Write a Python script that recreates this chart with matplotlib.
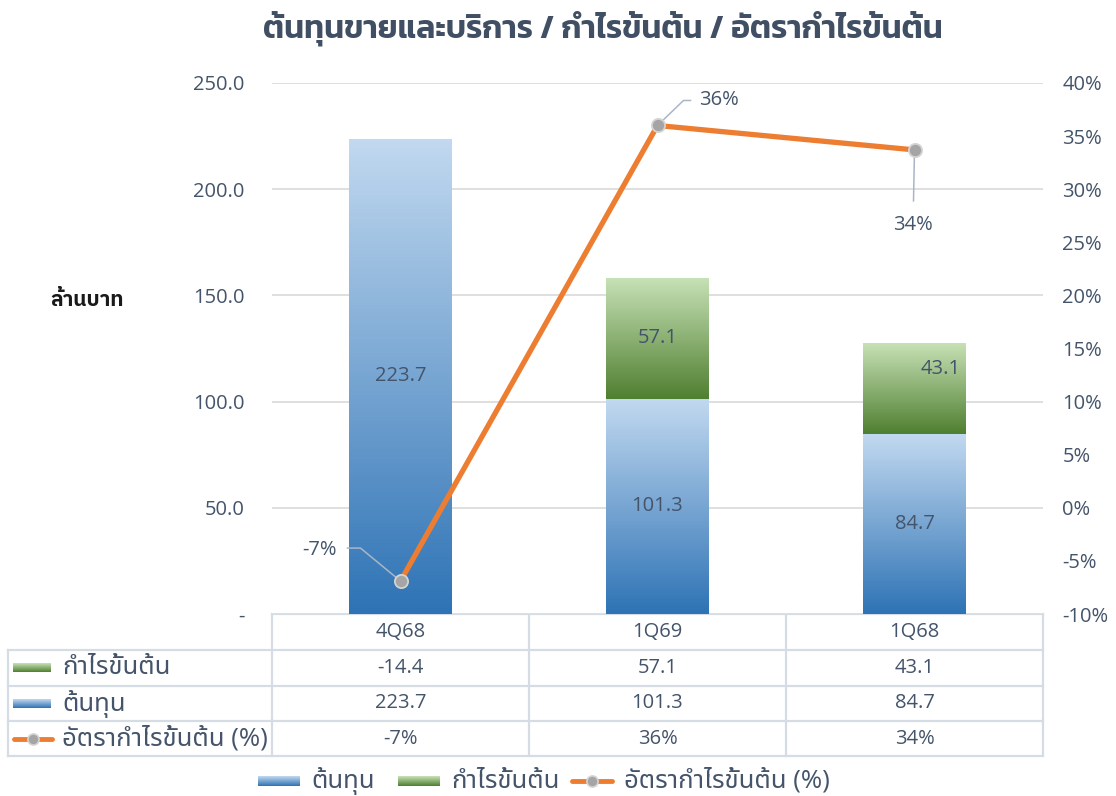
import numpy as np
import matplotlib
matplotlib.use("Agg")
import matplotlib.pyplot as plt
import matplotlib.transforms as mtrans
from matplotlib import font_manager
from matplotlib.colors import LinearSegmentedColormap

# data
quarters = ["4Q68", "1Q69", "1Q68"]
cost = [223.7, 101.3, 84.7]
gross_profit = [-14.4, 57.1, 43.1]
margin_pct = [-6.9, 36.0, 33.7]

title = "ต้นทุนขายและบริการ / กำไรขั้นต้น / อัตรากำไรขั้นต้น"
name_cost = "ต้นทุน"
name_profit = "กำไรขั้นต้น"
name_margin = "อัตรากำไรขั้นต้น (%)"
unit_label = "ล้านบาท"

# fonts: latin digits from Open Sans, thai glyphs from a thai family
ttf = font_manager.fontManager.ttflist
installed = {f.name for f in ttf}


def wnum(w):
    if isinstance(w, int):
        return w
    return font_manager.weight_dict.get(str(w), 400)


def has_bold(fam):
    return any(f.name == fam and wnum(f.weight) >= 600 for f in ttf)


thai = next((f for f in ["Noto Sans Thai", "Noto Sans Thai UI", "Sarabun", "Anuphan", "Kanit"]
             if f in installed), "DejaVu Sans")
thai_bold = next((f for f in [thai, "IBM Plex Sans Thai", "Noto Sans Thai UI", "Sarabun", "Kanit", "Prompt"]
                  if f in installed and has_bold(f)), thai)
title_font = next((f for f in ["Kanit", "Prompt", thai_bold] if f in installed), thai)
plt.rcParams["font.family"] = ["Open Sans", thai]

TXT = "#44546a"
GRID = "#d9d9d9"
TBL = "#d6dce4"
ORANGE = "#ed7d31"
BLUE_TOP, BLUE_BOT = "#c2d9f0", "#2e73b5"
GREEN_TOP, GREEN_BOT = "#c8e2b7", "#4f7f30"
FS_NUM = 14.5
FS_THAI = 18.5

W, H = 1116, 796
fig = plt.figure(figsize=(W / 100, H / 100), dpi=100)

# plot area in pixels
PL, PR, PT, PB = 272, 1043, 83, 614
ax = fig.add_axes([PL / W, 1 - PB / H, (PR - PL) / W, (PB - PT) / H])
ax2 = ax.twinx()

x = np.arange(len(quarters))
cost_a = np.array(cost)
prof_a = np.array(gross_profit)


def gradient_fill(axis, bars, top, bottom):
    cmap = LinearSegmentedColormap.from_list("g", [bottom, top])
    grad = np.linspace(0, 1, 256).reshape(-1, 1)
    for b in bars:
        b.set_facecolor("none")
        h = b.get_height()
        if h <= 0:
            continue
        x0, y0, w = b.get_x(), b.get_y(), b.get_width()
        im = axis.imshow(grad, cmap=cmap, origin="lower", aspect="auto",
                         extent=(x0, x0 + w, y0, y0 + h), zorder=1)
        im.set_clip_path(b)


bars_cost = ax.bar(x, cost_a, width=0.4, linewidth=0, zorder=2)
bars_prof = ax.bar(x, prof_a, width=0.4, bottom=np.where(prof_a > 0, cost_a, 0),
                   linewidth=0, zorder=2)
gradient_fill(ax, bars_cost, BLUE_TOP, BLUE_BOT)
gradient_fill(ax, bars_prof, GREEN_TOP, GREEN_BOT)

ax.set_xlim(-0.5, len(quarters) - 0.5)
ax.set_ylim(0, 250)
ax.set_yticks(np.arange(0, 251, 50))
ax.set_yticklabels(["-" if v == 0 else f"{v:.1f}" for v in np.arange(0, 251, 50)])
ax.grid(axis="y", color=GRID, lw=1.2, zorder=0)
ax.set_axisbelow(True)
ax.set_xticks([])
for s in ax.spines.values():
    s.set_visible(False)
ax.tick_params(axis="y", length=0, pad=20, labelsize=FS_NUM, labelcolor=TXT)

# bar labels
for xi, c in zip(x, cost_a):
    ax.text(xi, c / 2, f"{c:.1f}", ha="center", va="center", fontsize=FS_NUM, color=TXT, zorder=3)
profit_offsets = [(0, 0), (0, 0), (19, 14)]
for xi, c, p, off in zip(x, cost_a, prof_a, profit_offsets):
    if p > 0:
        ax.annotate(f"{p:.1f}", (xi, c + p / 2), xytext=off, textcoords="offset points",
                    ha="center", va="center", fontsize=FS_NUM, color=TXT, zorder=3)

# margin line
ax2.plot(x, margin_pct, color=ORANGE, lw=3.8, marker="o", ms=9.5, mfc="#a5a5a5",
         mec="#d4d4d4", mew=1.3, zorder=5, solid_capstyle="round")
ax2.set_ylim(-10, 40)
ax2.set_yticks(np.arange(-10, 41, 5))
ax2.set_yticklabels([f"{v}%" for v in np.arange(-10, 41, 5)])
ax2.tick_params(axis="y", length=0, pad=14, labelsize=FS_NUM, labelcolor=TXT)
for s in ax2.spines.values():
    s.set_visible(False)

# data labels with leader lines (offsets in pixels from the point)
leaders = [[(0, 0), (-40, 33), (-53, 33)],
           [(0, 0), (26, 25), (33, 25)],
           [(0, 0), (-1, -51)]]
label_pos = [((-64, 31), "right"), ((42, 25), "left"), ((-2, -75), "center")]
for xi, m, pts, (tp, ha) in zip(x, margin_pct, leaders, label_pos):
    tr = fig.dpi_scale_trans + mtrans.ScaledTranslation(xi, m, ax2.transData)
    px = np.array(pts) / 100.0
    ax2.plot(px[:, 0], px[:, 1], color="#a9b6c6", lw=1.1, transform=tr, zorder=4)
    ax2.text(tp[0] / 100, tp[1] / 100, f"{m:.0f}%", transform=tr, ha=ha, va="center",
             fontsize=FS_NUM, color=TXT, zorder=6)

# overlay in pixel coordinates for title, table and legend
ov = fig.add_axes([0, 0, 1, 1], zorder=-1)
ov.axis("off")

fig.text(603 / W, 1 - 28 / H, title, ha="center", va="center", fontsize=23,
         fontweight="semibold", color="#404f63", family=[title_font, "DejaVu Sans"])
fig.text(87 / W, 1 - 300 / H, unit_label, ha="center", va="center", fontsize=15,
         fontweight="bold", color="#1a1a1a", family=[thai_bold, "DejaVu Sans"])

# data table
cw = (PR - PL) / len(quarters)
col_edges = [PL + i * cw for i in range(len(quarters) + 1)]
rows_y = [PB, 650, 686, 721, 756]
TL = 8
for xe in col_edges:
    ov.plot([xe, xe], [rows_y[0], rows_y[-1]], color=TBL, lw=1.6)
ov.plot([TL, TL], [rows_y[1], rows_y[-1]], color=TBL, lw=1.6)
ov.plot([PL, PR], [rows_y[0], rows_y[0]], color=TBL, lw=1.6)
for yr in rows_y[1:]:
    ov.plot([TL, PR], [yr, yr], color=TBL, lw=1.6)

rmid = [(rows_y[i] + rows_y[i + 1]) / 2 for i in range(4)]
for i, q in enumerate(quarters):
    cx = PL + (i + 0.5) * cw
    ov.text(cx, rmid[0], q, ha="center", va="center", fontsize=FS_NUM, color=TXT)
    ov.text(cx, rmid[1], f"{gross_profit[i]:.1f}", ha="center", va="center", fontsize=FS_NUM, color=TXT)
    ov.text(cx, rmid[2], f"{cost[i]:.1f}", ha="center", va="center", fontsize=FS_NUM, color=TXT)
    ov.text(cx, rmid[3], f"{margin_pct[i]:.0f}%", ha="center", va="center", fontsize=FS_NUM, color=TXT)


def grad_key(x0, yc, w, h, top, bottom):
    cmap = LinearSegmentedColormap.from_list("k", [bottom, top])
    grad = np.linspace(0, 1, 64).reshape(-1, 1)
    ov.imshow(grad, cmap=cmap, origin="lower", aspect="auto",
              extent=(x0, x0 + w, yc + h / 2, yc - h / 2))


def line_key(x0, yc, w):
    ov.plot([x0, x0 + w], [yc, yc], color=ORANGE, lw=3.5, solid_capstyle="round")
    ov.plot([x0 + w / 2], [yc], "o", ms=8, mfc="#a5a5a5", mec="#d4d4d4", mew=1.2)


grad_key(13, rmid[1], 38, 9, GREEN_TOP, GREEN_BOT)
grad_key(13, rmid[2], 38, 9, BLUE_TOP, BLUE_BOT)
line_key(14, rmid[3], 38)
for yy, name in zip(rmid[1:], [name_profit, name_cost, name_margin]):
    ov.text(62, yy, name, ha="left", va="center", fontsize=FS_THAI, color=TXT)

# bottom legend
LY = 781
grad_key(258, LY, 42, 10, BLUE_TOP, BLUE_BOT)
ov.text(311, LY, name_cost, ha="left", va="center", fontsize=FS_THAI, color=TXT)
grad_key(398, LY, 42, 10, GREEN_TOP, GREEN_BOT)
ov.text(451, LY, name_profit, ha="left", va="center", fontsize=FS_THAI, color=TXT)
line_key(572, LY, 40)
ov.text(624, LY, name_margin, ha="left", va="center", fontsize=FS_THAI, color=TXT)
ov.set_xlim(0, W)
ov.set_ylim(H, 0)

fig.savefig("out.png", dpi=100)
